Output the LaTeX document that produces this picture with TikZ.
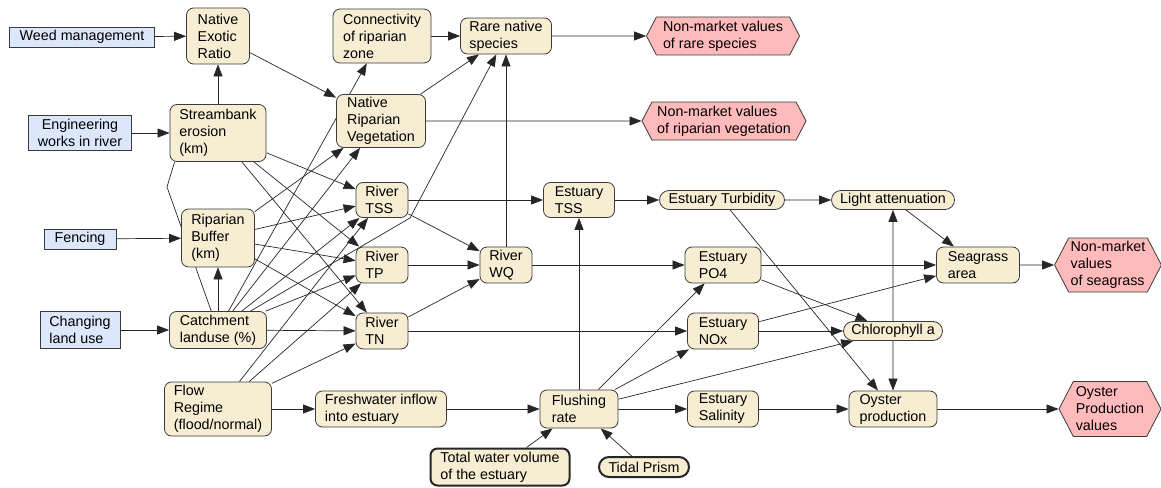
\documentclass[tikz,border=0pt]{standalone}
\usepackage{fontspec}
\setmainfont{Liberation Sans}
\usetikzlibrary{arrows.meta}
\usetikzlibrary{shapes.misc,shapes.symbols}
\usetikzlibrary{backgrounds}

\definecolor{driverblue}{HTML}{DDE7FC}
\definecolor{nodebeige}{HTML}{F7EDD3}
\definecolor{valuepink}{HTML}{FFBBBB}
\definecolor{rimgray}{HTML}{3A3A3A}

\tikzset{
  driver/.style={draw=rimgray, fill=driverblue, line width=.8pt, align=center, inner sep=2pt},
  var/.style={draw=rimgray, fill=nodebeige, line width=.8pt, rounded corners=7pt, align=left, inner sep=2pt},
  pill/.style={draw=rimgray, fill=nodebeige, line width=.8pt, rounded rectangle, inner sep=2pt},
  fixed/.style={draw=black!85, line width=2pt},
  value/.style={draw=rimgray, fill=valuepink, line width=.8pt, signal, signal to=east and west, signal pointer angle=125, align=left, inner sep=2pt},
  link/.style={black!85, line width=.7pt, ->, >={Triangle[length=12pt,width=9pt]}},
  plain/.style={black!85, line width=.7pt}
}

\begin{document}
\begin{tikzpicture}[x=1pt, y=-1pt, every node/.append style={font=\fontsize{14.3}{17}\selectfont}]
\useasboundingbox (0,0) rectangle (1161,487);
% management actions
\node[driver, minimum width=145pt, minimum height=20pt] (weed) at (82,37) {Weed management};
\node[driver, minimum width=103pt, minimum height=35pt] (works) at (80,133) {Engineering\\works in river};
\node[driver, minimum width=72pt, minimum height=20pt] (fence) at (80,239) {Fencing};
\node[driver, align=left, minimum width=80pt, minimum height=37pt] (landuse) at (80,330) {Changing\\land use};
% catchment and river
\node[var, minimum width=63pt, minimum height=56pt] (ner) at (218,36) {Native\\Exotic\\Ratio};
\node[var, minimum width=96pt, minimum height=57pt] (bank) at (218,133) {Streambank\\erosion\\(km)};
\node[var, minimum width=73pt, minimum height=58pt] (buffer) at (218,238) {Riparian\\Buffer\\(km)};
\node[var, minimum width=97pt, minimum height=37pt] (catch) at (218,330) {Catchment\\landuse (\%)};
\node[var, minimum width=107pt, minimum height=54pt] (flow) at (218,409) {Flow\\Regime\\(flood/normal)};
\node[var, minimum width=98pt, minimum height=54pt] (conn) at (382,36) {Connectivity\\of riparian\\zone};
\node[var, minimum width=89pt, minimum height=53pt] (nrv) at (381,121) {Native\\Riparian\\Vegetation};
\node[var, minimum width=91pt, minimum height=36pt] (rare) at (506,36) {Rare native\\species};
\node[var, minimum width=52pt, minimum height=35pt] (rtss) at (382,200) {River\\TSS};
\node[var, minimum width=52pt, minimum height=36pt] (rtp) at (382,265) {River\\TP};
\node[var, minimum width=52pt, minimum height=36pt] (rtn) at (382,331) {River\\TN};
\node[var, minimum width=52pt, minimum height=36pt] (rwq) at (506,265) {River\\WQ};
\node[var, minimum width=131pt, minimum height=36pt] (fresh) at (381,409) {Freshwater inflow\\into estuary};
% estuary
\node[var, minimum width=71pt, minimum height=35pt] (etss) at (579,200) {Estuary\\TSS};
\node[var, minimum width=76pt, minimum height=36pt] (epo) at (723,265) {Estuary\\PO4};
\node[var, minimum width=71pt, minimum height=36pt] (enox) at (723,331) {Estuary\\NOx};
\node[var, minimum width=78pt, minimum height=38pt] (flush) at (579,409) {Flushing\\rate};
\node[var, minimum width=71pt, minimum height=36pt] (esal) at (723,409) {Estuary\\Salinity};
\node[var, minimum width=83pt, minimum height=36pt] (sea) at (978,265) {Seagrass\\area};
\node[var, minimum width=88pt, minimum height=36pt] (oyster) at (893,409) {Oyster\\production};
\node[var, fixed, minimum width=139pt, minimum height=37pt] (total) at (500,467) {Total water volume\\of the estuary};
\node[pill, minimum width=129pt, minimum height=19pt] (turb) at (722,200) {Estuary Turbidity};
\node[pill, minimum width=127pt, minimum height=19pt] (light) at (893,200) {Light attenuation};
\node[pill, minimum width=103pt, minimum height=19pt] (chl) at (893,331) {Chlorophyll a};
\node[pill, fixed, minimum width=94pt, minimum height=20pt] (tidal) at (644,467) {Tidal Prism};
% values
\node[value, minimum width=153pt, minimum height=38pt] (nmrare) at (723,36) {Non-market values\\of rare species};
\node[value, minimum width=164pt, minimum height=38pt] (nmveg) at (724,121) {Non-market values\\of riparian vegetation};
\node[value, minimum width=105pt, minimum height=54pt] (nmsea) at (1108,265) {Non-market\\values\\of seagrass};
\node[value, minimum width=102pt, minimum height=55pt] (oyval) at (1110,409) {Oyster\\Production\\values};
\coordinate (kinkA) at (167,187);
\coordinate (kinkB) at (410,218);

\begin{scope}[on background layer]
\draw[link] (weed) -- (ner);
\draw[link] (works) -- (bank);
\draw[link] (fence) -- (buffer);
\draw[link] (landuse) -- (catch);
\draw[link] (bank) -- (ner);
\draw[link] (ner) -- (nrv);
\draw[link] (nrv) -- (rare);
\draw[link] (conn) -- (rare);
\draw[link] (nrv) -- (nmveg);
\draw[link] (rare) -- (nmrare);
\draw[link] (rwq) -- (rare);
\draw[link] (catch) -- (kinkB) -- (rare);
\draw[plain] (catch) -- (kinkA) -- ([xshift=5pt]bank.south west);
\draw[link] (catch) -- (buffer);
\draw[link] (catch) -- (conn);
\draw[link] (catch) -- (nrv);
\draw[link] (buffer) -- (nrv);
\foreach \src in {bank, buffer, catch, flow} {
  \draw[link] (\src) -- (rtss);
  \draw[link] (\src) -- (rtp);
  \draw[link] (\src) -- (rtn);
}
\draw[link] (flow) -- (fresh);
\draw[link] (rtss) -- (rwq);
\draw[link] (rtp) -- (rwq);
\draw[link] (rtn) -- (rwq);
\draw[link] (rtss) -- (etss);
\draw[link] (rwq) -- (epo);
\draw[link] (rtn) -- (enox);
\draw[link] (fresh) -- (flush);
\draw[link] (total) -- (flush);
\draw[link] (tidal) -- (flush);
\foreach \dst in {etss, epo, enox, chl, esal} {
  \draw[link] (flush) -- (\dst);
}
\draw[link] (etss) -- (turb);
\draw[link] (turb) -- (light);
\draw[link] (turb) -- (oyster);
\draw[link] (epo) -- (sea);
\draw[link] (epo) -- (chl);
\draw[link] (enox) -- (chl);
\draw[link] (enox) -- (sea);
\draw[link] (chl) -- (light);
\draw[link] (chl) -- (oyster);
\draw[link] (light) -- (sea);
\draw[link] (sea) -- (nmsea);
\draw[link] (esal) -- (oyster);
\draw[link] (oyster) -- (oyval);
\end{scope}
\end{tikzpicture}
\end{document}
